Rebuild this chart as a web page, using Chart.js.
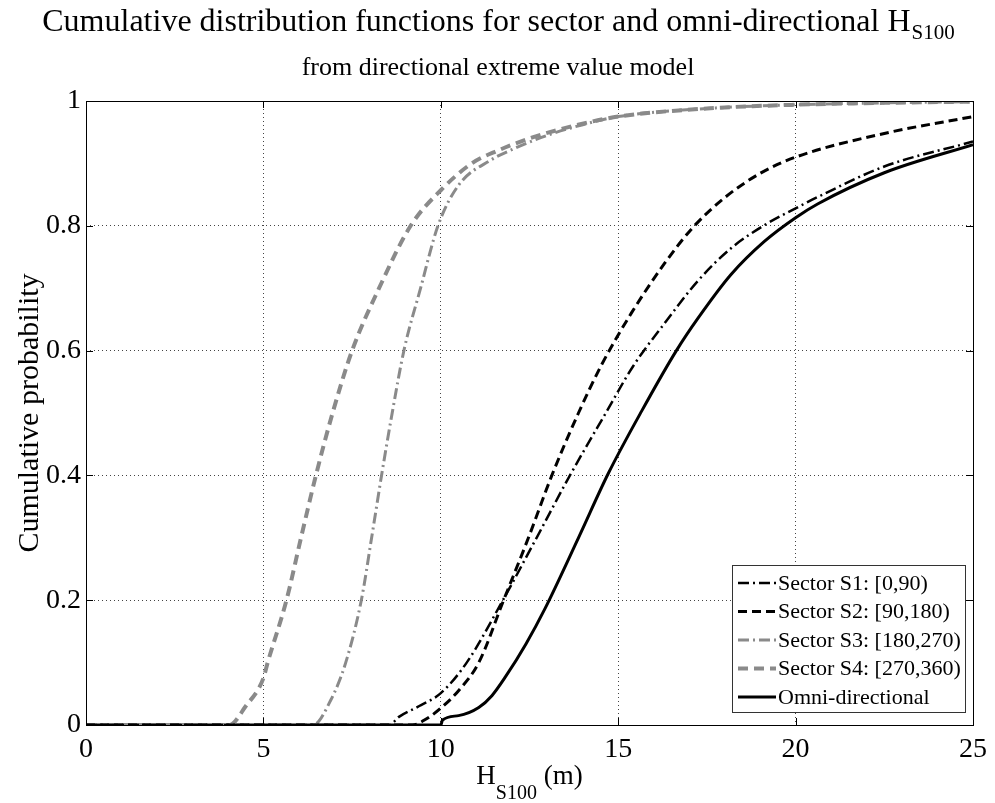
<!DOCTYPE html>
<html lang="en">
<head>
    <meta charset="UTF-8">
    <script src="https://cdn.jsdelivr.net/npm/chart.js"></script>
    <title>CDF sector and omni-directional HS100</title>
    <style>
        html, body { margin: 0; padding: 0; background: #fff; }
        #wrap { width: 995px; height: 803px; }
    </style>
</head>
<body>
<div id="wrap"><canvas id="grafico" width="995" height="803"></canvas></div>

<script>
    // datos: H_S100 (m) y probabilidad acumulada
    const hS1 = [0, 8.55, 8.82, 9.38, 10, 10.73, 11.75, 12.7, 13.64, 14.65, 15.42, 16.31, 17.25, 18.18, 19.12, 20, 20.62, 22.5, 25];
    const pS1 = [0, 0, 0.013, 0.03, 0.051, 0.1, 0.2, 0.3, 0.4, 0.5, 0.575, 0.644, 0.712, 0.764, 0.801, 0.828, 0.846, 0.895, 0.935];

    const hS2 = [0, 9.2, 9.6, 10, 10.5, 11.07, 11.77, 12.47, 13.13, 13.88, 14.53, 15.37, 16.31, 17.1, 18, 19, 20, 22.5, 25];
    const pS2 = [0, 0, 0.01, 0.027, 0.055, 0.1, 0.2, 0.3, 0.4, 0.5, 0.577, 0.66, 0.74, 0.797, 0.845, 0.884, 0.91, 0.948, 0.975];

    const hS3 = [0, 6.4, 6.9, 7.32, 7.76, 8.05, 8.33, 8.63, 8.96, 9.43, 9.92, 10.5, 11.4, 12, 13, 14, 15, 17.5, 20, 22.5, 25];
    const pS3 = [0, 0, 0.04, 0.1, 0.2, 0.3, 0.4, 0.5, 0.6, 0.7, 0.8, 0.865, 0.905, 0.922, 0.945, 0.962, 0.975, 0.988, 0.994, 0.997, 0.999];

    const hS4 = [0, 4.04, 4.5, 5, 5.12, 5.65, 6.06, 6.48, 6.95, 7.5, 8.26, 9.15, 10, 10.87, 11.63, 12.5, 13.87, 15, 17.5, 20, 22.5, 25];
    const pS4 = [0, 0, 0.03, 0.075, 0.1, 0.2, 0.3, 0.4, 0.5, 0.6, 0.7, 0.8, 0.857, 0.9, 0.921, 0.94, 0.962, 0.975, 0.988, 0.994, 0.997, 0.999];

    const hOmni = [0, 10, 10.05, 10.5, 11.07, 11.44, 11.82, 12.4, 12.94, 13.88, 14.72, 15.66, 16.64, 17.25, 18.18, 19.12, 20, 20.62, 22.5, 25];
    const pOmni = [0, 0, 0.008, 0.015, 0.028, 0.047, 0.077, 0.13, 0.187, 0.3, 0.403, 0.503, 0.6, 0.652, 0.722, 0.775, 0.813, 0.835, 0.885, 0.93];

    const etiquetas = ['Sector S1: [0,90)', 'Sector S2: [90,180)', 'Sector S3: [180,270)', 'Sector S4: [270,360)', 'Omni-directional'];
    const xTicks = [0, 5, 10, 15, 20, 25];
    const yTicks = [0, 0.2, 0.4, 0.6, 0.8, 1];

    const SERIF = '"Liberation Serif", "DejaVu Serif", serif';
    const gris = '#8a8a8a';

    function puntos(xs, ys) {
        return xs.map((x, i) => ({x: x, y: ys[i]}));
    }

    function serie(label, xs, ys, color, dash, width) {
        return {
            label: label,
            data: puntos(xs, ys),
            borderColor: color,
            borderDash: dash,
            borderWidth: width,
            pointRadius: 0,
            fill: false,
            cubicInterpolationMode: 'monotone'
        };
    }

    // textos, caja, ticks hacia adentro y leyenda al estilo matlab
    const decoracion = {
        id: 'decoracion',
        afterDraw(chart) {
            const ctx = chart.ctx;
            const a = chart.chartArea;
            const sx = chart.scales.x, sy = chart.scales.y;
            ctx.save();

            // caja
            ctx.strokeStyle = '#000';
            ctx.lineWidth = 1;
            ctx.setLineDash([]);
            ctx.strokeRect(a.left + 0.5, a.top + 0.5, a.right - a.left, a.bottom - a.top);

            // ticks hacia adentro
            ctx.beginPath();
            xTicks.forEach(v => {
                const px = Math.round(sx.getPixelForValue(v)) + 0.5;
                ctx.moveTo(px, a.bottom); ctx.lineTo(px, a.bottom - 7);
                ctx.moveTo(px, a.top); ctx.lineTo(px, a.top + 7);
            });
            yTicks.forEach(v => {
                const py = Math.round(sy.getPixelForValue(v)) + 0.5;
                ctx.moveTo(a.left, py); ctx.lineTo(a.left + 7, py);
                ctx.moveTo(a.right, py); ctx.lineTo(a.right - 7, py);
            });
            ctx.stroke();

            ctx.fillStyle = '#000';
            // titulo con subindice
            const f1 = '32px ' + SERIF, fs = '21px ' + SERIF;
            ctx.textBaseline = 'alphabetic';
            const t1 = 'Cumulative distribution functions for sector and omni-directional H';
            ctx.font = f1;
            const w1 = ctx.measureText(t1).width;
            ctx.font = fs;
            const wsub = ctx.measureText('S100').width;
            let x0 = 498 - (w1 + wsub) / 2;
            ctx.textAlign = 'left';
            ctx.font = f1;
            ctx.fillText(t1, x0, 31);
            ctx.font = fs;
            ctx.fillText('S100', x0 + w1 + 1, 39);
            ctx.font = '26px ' + SERIF;
            ctx.textAlign = 'center';
            ctx.fillText('from directional extreme value model', 498, 75);

            // titulo eje x
            const cx = (a.left + a.right) / 2;
            ctx.font = '27px ' + SERIF;
            const wH = ctx.measureText('H').width;
            const wm = ctx.measureText(' (m)').width;
            ctx.font = '20px ' + SERIF;
            const ws = ctx.measureText('S100').width;
            let xx = cx - (wH + ws + wm) / 2;
            ctx.textAlign = 'left';
            ctx.font = '27px ' + SERIF;
            ctx.fillText('H', xx, 784);
            ctx.font = '20px ' + SERIF;
            ctx.fillText('S100', xx + wH, 799);
            ctx.font = '27px ' + SERIF;
            ctx.fillText(' (m)', xx + wH + ws, 784);

            // titulo eje y
            ctx.save();
            ctx.translate(30, (a.top + a.bottom) / 2);
            ctx.rotate(-Math.PI / 2);
            ctx.textAlign = 'center';
            ctx.textBaseline = 'middle';
            ctx.font = '30px ' + SERIF;
            ctx.fillText('Cumulative probability', 0, 0);
            ctx.restore();

            // leyenda
            const lx = 732, ly = 565, lw = 233, lh = 147;
            ctx.fillStyle = '#fff';
            ctx.fillRect(lx, ly, lw, lh);
            ctx.strokeStyle = '#333';
            ctx.lineWidth = 1;
            ctx.strokeRect(lx + 0.5, ly + 0.5, lw, lh);
            ctx.font = '22px ' + SERIF;
            ctx.textAlign = 'left';
            ctx.textBaseline = 'middle';
            chart.data.datasets.forEach((ds, i) => {
                const yy = 583 + i * 28.5;
                ctx.strokeStyle = ds.borderColor;
                ctx.lineWidth = ds.borderWidth;
                ctx.setLineDash(ds.borderDash || []);
                ctx.beginPath();
                ctx.moveTo(738, yy);
                ctx.lineTo(776, yy);
                ctx.stroke();
                ctx.setLineDash([]);
                ctx.fillStyle = '#000';
                ctx.fillText(ds.label, 778, yy + 1);
            });
            ctx.restore();
        }
    };

    document.addEventListener("DOMContentLoaded", () => {
        const ctx = document.getElementById('grafico').getContext('2d');
        new Chart(ctx, {
            type: 'line',
            data: {
                datasets: [
                    serie(etiquetas[0], hS1, pS1, '#000', [11, 4, 2, 4], 2.5),
                    serie(etiquetas[1], hS2, pS2, '#000', [9, 5], 3),
                    serie(etiquetas[2], hS3, pS3, gris, [11, 4, 2, 4], 3),
                    serie(etiquetas[3], hS4, pS4, gris, [10, 6], 4),
                    serie(etiquetas[4], hOmni, pOmni, '#000', [], 3)
                ]
            },
            options: {
                responsive: false,
                animation: false,
                layout: { padding: { top: 101, right: 18, left: 0, bottom: 0 } },
                plugins: {
                    legend: { display: false },
                    tooltip: { enabled: false }
                },
                scales: {
                    x: {
                        type: 'linear',
                        min: 0,
                        max: 25,
                        afterFit: s => { s.height = 78; },
                        afterBuildTicks: s => { s.ticks = xTicks.map(v => ({value: v})); },
                        grid: { color: '#444', lineWidth: 1, drawTicks: false },
                        border: { display: false, dash: [1, 3] },
                        ticks: { color: '#000', padding: 8, font: { family: SERIF, size: 28 }, callback: v => String(v) }
                    },
                    y: {
                        min: 0,
                        max: 1,
                        afterFit: s => { s.width = 86; },
                        afterBuildTicks: s => { s.ticks = yTicks.map(v => ({value: v})); },
                        grid: { color: '#444', lineWidth: 1, drawTicks: false },
                        border: { display: false, dash: [1, 3] },
                        ticks: { color: '#000', padding: 5, font: { family: SERIF, size: 28 }, callback: v => String(v) }
                    }
                }
            },
            plugins: [decoracion]
        });
    });
</script>
</body>
</html>
